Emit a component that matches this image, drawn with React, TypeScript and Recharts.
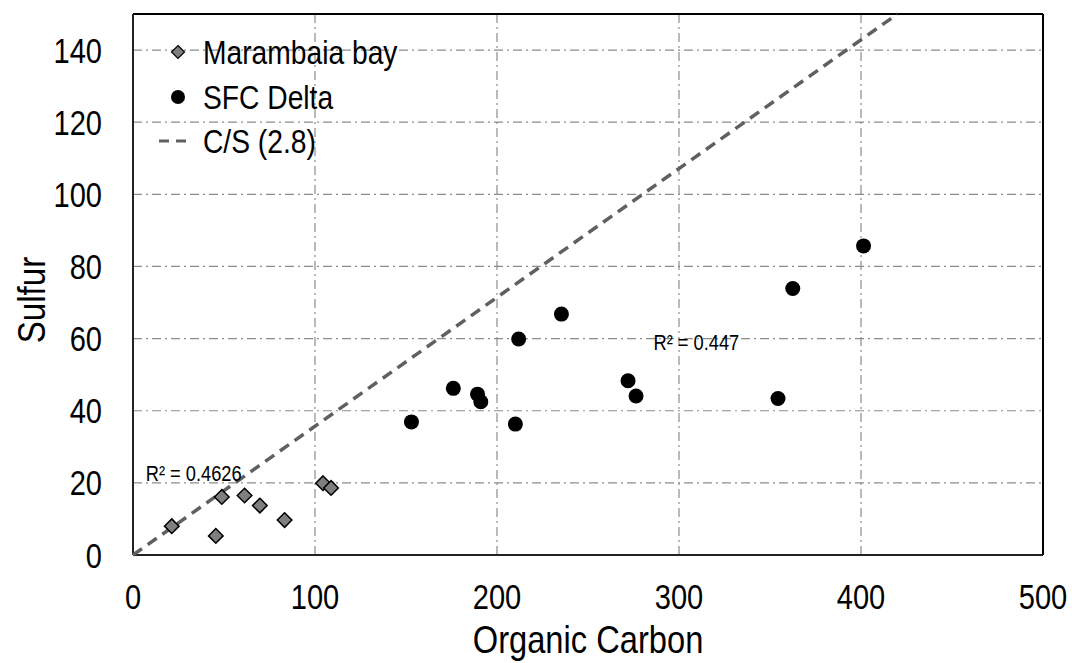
import React from 'react';
import {
  ScatterChart,
  Scatter,
  XAxis,
  YAxis,
  CartesianGrid,
  ReferenceLine,
  ReferenceDot,
  Legend,
} from 'recharts';

const marambaiaOC = [21.3, 45.5, 48.8, 61.3, 69.7, 83.3, 104.4, 108.8];
const marambaiaS = [8.0, 5.3, 16.1, 16.5, 13.7, 9.7, 19.9, 18.6];
const sfcOC = [153.0, 176.0, 189.3, 191.1, 210.1, 211.9, 235.4, 272.0, 276.4, 354.4, 362.5, 401.4];
const sfcS = [36.9, 46.2, 44.6, 42.5, 36.3, 59.9, 66.8, 48.3, 44.1, 43.4, 73.9, 85.7];
const csRatio = 2.8;
const csLineOC = [0, 420];
const xTicks = [0, 100, 200, 300, 400, 500];
const yTicks = [0, 20, 40, 60, 80, 100, 120, 140];
const seriesNames = ['Marambaia bay', 'SFC Delta', 'C/S (2.8)'];
const r2OC = [7, 286];
const r2S = [22.6, 59.0];
const r2Text = ['R² = 0.4626', 'R² = 0.447'];

const FONT = "'Liberation Sans', Arial, sans-serif";
const SX = 0.83;

const marambaiaData = marambaiaOC.map((x, i) => ({ x, y: marambaiaS[i] }));
const sfcData = sfcOC.map((x, i) => ({ x, y: sfcS[i] }));
const csData = csLineOC.map((x) => ({ x, y: x / csRatio }));

const NText = ({ x, y, size, anchor = 'start', rotate = 0, sx = SX, children }: any) => (
  <text
    transform={`translate(${x},${y}) rotate(${rotate}) scale(${sx},1)`}
    x={0}
    y={0}
    fontSize={size}
    fontFamily={FONT}
    textAnchor={anchor}
    fill="#000"
  >
    {children}
  </text>
);

const Diamond = (props: any) => {
  const { cx, cy } = props;
  const r = 7.3;
  return (
    <path
      d={`M${cx},${cy - r}L${cx + r},${cy}L${cx},${cy + r}L${cx - r},${cy}Z`}
      fill="#7f7f7f"
      stroke="#000"
      strokeWidth={1.5}
    />
  );
};

const Dot = (props: any) => {
  const { cx, cy } = props;
  return <circle cx={cx} cy={cy} r={7.5} fill="#000" />;
};

const NoShape = () => null;

const YTick = (props: any) => {
  const { x, y, payload } = props;
  return (
    <NText x={x} y={y + 12.5} size={35} anchor="end">
      {payload.value}
    </NText>
  );
};

const XTick = (props: any) => {
  const { x, y, payload } = props;
  return (
    <NText x={x} y={y + 54} size={35} anchor="middle">
      {payload.value}
    </NText>
  );
};

const LegendContent = () => (
  <svg width={320} height={140} style={{ display: 'block', overflow: 'visible' }}>
    <path d="M28,5.5L34.5,12L28,18.5L21.5,12Z" fill="#7f7f7f" stroke="#000" strokeWidth={1.2} />
    <NText x={53} y={24} size={34}>
      {seriesNames[0]}
    </NText>
    <circle cx={28} cy={57} r={7} fill="#000" />
    <NText x={53} y={69} size={34}>
      {seriesNames[1]}
    </NText>
    <line x1={9} y1={101} x2={40} y2={101} stroke="#606060" strokeWidth={3} strokeDasharray="10 7" />
    <NText x={53} y={113} size={34}>
      {seriesNames[2]}
    </NText>
  </svg>
);

const SulfurLabel = (props: any) => {
  const { viewBox } = props;
  const x = viewBox.x + 45;
  return (
    <NText x={x} y={300} size={39} anchor="middle" rotate={-90} sx={0.85}>
      Sulfur
    </NText>
  );
};

const CarbonLabel = (props: any) => {
  const { viewBox } = props;
  const x = viewBox.x + viewBox.width / 2;
  return (
    <NText x={x} y={653} size={38} anchor="middle" sx={0.86}>
      Organic Carbon
    </NText>
  );
};

const R2Label = (text: string) => (props: any) => {
  const { viewBox } = props;
  return (
    <NText x={viewBox.x} y={viewBox.y + 8} size={22}>
      {text}
    </NText>
  );
};

export default function App() {
  return (
    <div style={{ position: 'absolute', left: 0, top: 0, width: 1072, height: 663, background: '#fff' }}>
      <ScatterChart
        width={1072}
        height={663}
        margin={{ top: 14, right: 29, bottom: 0, left: 0 }}
        style={{ fontFamily: FONT }}
      >
        <CartesianGrid
          stroke="#8c8c8c"
          strokeWidth={1.2}
          strokeDasharray="9 4 2 4"
          horizontalValues={yTicks}
          verticalValues={xTicks}
        />
        <XAxis
          type="number"
          dataKey="x"
          domain={[0, 500]}
          ticks={xTicks}
          interval={0}
          height={108}
          tickSize={0}
          tickMargin={0}
          axisLine={{ stroke: '#222', strokeWidth: 2 }}
          tick={XTick}
          label={{ content: CarbonLabel }}
        />
        <YAxis
          type="number"
          dataKey="y"
          domain={[0, 150]}
          ticks={yTicks}
          interval={0}
          width={133}
          tickSize={0}
          tickMargin={31}
          axisLine={{ stroke: '#222', strokeWidth: 2 }}
          tick={YTick}
          label={{ content: SulfurLabel }}
        />
        <ReferenceLine y={150} stroke="#000" strokeWidth={2} ifOverflow="visible" />
        <ReferenceLine x={500} stroke="#000" strokeWidth={2} ifOverflow="visible" />
        <Legend
          layout="horizontal"
          align="center"
          verticalAlign="middle"
          content={LegendContent}
          wrapperStyle={{ position: 'absolute', left: 150, top: 40, width: 320, height: 140 }}
        />
        <Scatter
          name={seriesNames[2]}
          data={csData}
          line={{ stroke: '#606060', strokeWidth: 3.5, strokeDasharray: '11 7' }}
          shape={NoShape}
          isAnimationActive={false}
          legendType="none"
        />
        <Scatter name={seriesNames[0]} data={marambaiaData} shape={Diamond} isAnimationActive={false} />
        <Scatter name={seriesNames[1]} data={sfcData} shape={Dot} isAnimationActive={false} />
        {r2OC.map((x, i) => (
          <ReferenceDot
            key={i}
            x={x}
            y={r2S[i]}
            r={0}
            fill="none"
            stroke="none"
            label={{ content: R2Label(r2Text[i]) }}
          />
        ))}
      </ScatterChart>
    </div>
  );
}
